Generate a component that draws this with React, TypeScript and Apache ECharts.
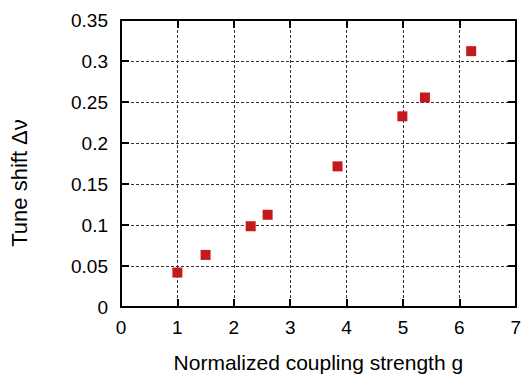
import React, { useEffect, useRef } from "react";
import * as echarts from "echarts";

const couplingG = [1.0, 1.5, 2.3, 2.6, 3.84, 4.99, 5.39, 6.21];
const tuneShift = [0.042, 0.0635, 0.0985, 0.1125, 0.1715, 0.2325, 0.2555, 0.312];
const xTicks = { min: 0, max: 7, interval: 1 };
const yTicks = { min: 0, max: 0.35, interval: 0.05 };
const xTitle = "Normalized coupling strength g";
const yTitle = "Tune shift Δν";

const FONT = "'Liberation Sans', Arial, sans-serif";

export default function App() {
  const ref = useRef<HTMLDivElement>(null);
  useEffect(() => {
    if (!ref.current) return;
    const chart = echarts.init(ref.current, undefined, { renderer: "svg" });
    const axisLine = { show: true, onZero: false, lineStyle: { color: "#000", width: 2 } };
    const axisTick = { show: true, inside: true, length: 8, lineStyle: { color: "#000", width: 2 } };
    const splitLine = { show: true, lineStyle: { color: "#333", width: 1, type: [3, 2] as any } };
    const fmtY = (v: number) => String(Math.round(v * 100) / 100);
    chart.setOption({
      animation: false,
      grid: { left: 121, top: 20, right: 8, bottom: 67, containLabel: false },
      graphic: [
        {
          type: "text",
          x: 19,
          y: 183,
          rotation: Math.PI / 2,
          style: {
            text: yTitle,
            font: `22px ${FONT}`,
            fill: "#000",
            textAlign: "center",
            textVerticalAlign: "middle",
          },
        },
      ],
      xAxis: [
        {
          type: "value",
          ...xTicks,
          position: "bottom",
          name: xTitle,
          nameLocation: "middle",
          nameGap: 45,
          nameTextStyle: { fontFamily: FONT, fontSize: 21, color: "#000" },
          axisLine,
          axisTick,
          axisLabel: { fontFamily: FONT, fontSize: 19, color: "#000", margin: 11 },
          splitLine,
        },
        {
          type: "value",
          ...xTicks,
          position: "top",
          axisLine,
          axisTick,
          axisLabel: { show: false },
          splitLine: { show: false },
        },
      ],
      yAxis: [
        {
          type: "value",
          ...yTicks,
          position: "left",
          axisLine,
          axisTick,
          axisLabel: { fontFamily: FONT, fontSize: 19, color: "#000", margin: 13, formatter: fmtY },
          splitLine,
        },
        {
          type: "value",
          ...yTicks,
          position: "right",
          axisLine,
          axisTick,
          axisLabel: { show: false },
          splitLine: { show: false },
        },
      ],
      series: [
        {
          type: "scatter",
          xAxisIndex: 0,
          yAxisIndex: 0,
          symbol: "rect",
          symbolSize: 10,
          itemStyle: { color: "#c41a1c", opacity: 1 },
          data: couplingG.map((g, i) => [g, tuneShift[i]]),
        },
      ],
    });
    return () => chart.dispose();
  }, []);
  return (
    <div
      ref={ref}
      style={{ position: "absolute", left: 0, top: 0, width: 524, height: 378 }}
    />
  );
}
